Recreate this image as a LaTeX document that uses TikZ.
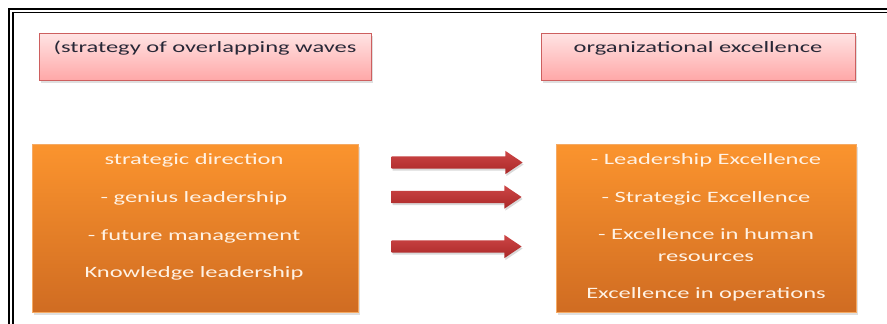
\documentclass[tikz,border=0pt]{standalone}
\usepackage{fontspec}
\setmainfont[FakeStretch=1.55]{Carlito}
\usetikzlibrary{shapes.arrows,shadows}
\definecolor{pinktop}{RGB}{255,228,228}
\definecolor{pinkbot}{RGB}{255,168,168}
\definecolor{pinkedge}{RGB}{205,95,95}
\definecolor{orgtop}{RGB}{251,148,46}
\definecolor{orgbot}{RGB}{208,108,34}
\definecolor{orgedge}{RGB}{245,170,100}
\definecolor{redtop}{RGB}{205,70,70}
\definecolor{redbot}{RGB}{170,40,40}
\definecolor{headtxt}{RGB}{40,40,55}
\definecolor{boxtxt}{RGB}{255,242,228}
\tikzset{
  pinkbox/.style={draw=pinkedge, line width=0.8pt, top color=pinktop, bottom color=pinkbot,
    inner sep=0pt, drop shadow={opacity=0.25, shadow xshift=1.5pt, shadow yshift=-2.5pt}},
  orangebox/.style={draw=orgedge, line width=0.6pt, top color=orgtop, bottom color=orgbot,
    inner sep=0pt, drop shadow={opacity=0.25, shadow xshift=1.5pt, shadow yshift=-2.5pt}},
  headtext/.style={font=\fontsize{15.8}{18}\selectfont, text=headtxt, inner sep=0pt},
  itemtext/.style={font=\fontsize{15.8}{18}\selectfont, text=boxtxt, inner sep=0pt},
  redarrow/.style={single arrow, shape border rotate=0, top color=redtop, bottom color=redbot,
    draw=none, inner xsep=0pt, inner ysep=0pt, text height=12pt, text depth=0pt,
    single arrow head extend=5.5pt, single arrow tip angle=68, single arrow head indent=0pt,
    minimum height=131pt,
    drop shadow={opacity=0.3, shadow xshift=1pt, shadow yshift=-2pt}},
}
\begin{document}
\begin{tikzpicture}[x=1pt,y=-1pt]
\useasboundingbox (0,0) rectangle (887,324);
% frame
\draw[line width=2.2pt] (9,330) -- (9,9) -- (895,9);
\draw[line width=1.5pt] (13,330) -- (13,12.5) -- (895,12.5);
% top pink boxes
\node[pinkbox, minimum width=332pt, minimum height=47pt] (pl) at (205,56.5) {};
\node[pinkbox, minimum width=314pt, minimum height=47pt] (pr) at (698,56.5) {};
\node[headtext] (plt) at (205,48.5) {(strategy of overlapping waves};
\node[headtext] (prt) at (698,48.5) {organizational excellence};
% orange boxes
\node[orangebox, minimum width=326pt, minimum height=168pt] (ol) at (195,228) {};
\node[orangebox, minimum width=300pt, minimum height=168pt] (or) at (706,228) {};
\node[itemtext] (l1) at (194,160.5) {strategic direction};
\node[itemtext] (l2) at (194,198.5) {- genius leadership};
\node[itemtext] (l3) at (194,236) {- future management};
\node[itemtext] (l4) at (194,273.5) {Knowledge leadership};
\node[itemtext] (r1) at (706,160.5) {- Leadership Excellence};
\node[itemtext] (r2) at (706,198.5) {- Strategic Excellence};
\node[itemtext] (r3) at (706,234.5) {- Excellence in human};
\node[itemtext] (r4) at (706,257.5) {resources};
\node[itemtext] (r5) at (706,294.5) {Excellence in operations};
% arrows
\node[redarrow] (a1) at (452.5,162.5) {};
\node[redarrow, minimum height=130pt] (a2) at (452,197) {};
\node[redarrow, minimum height=130pt] (a3) at (452,246.5) {};
\end{tikzpicture}
\end{document}
